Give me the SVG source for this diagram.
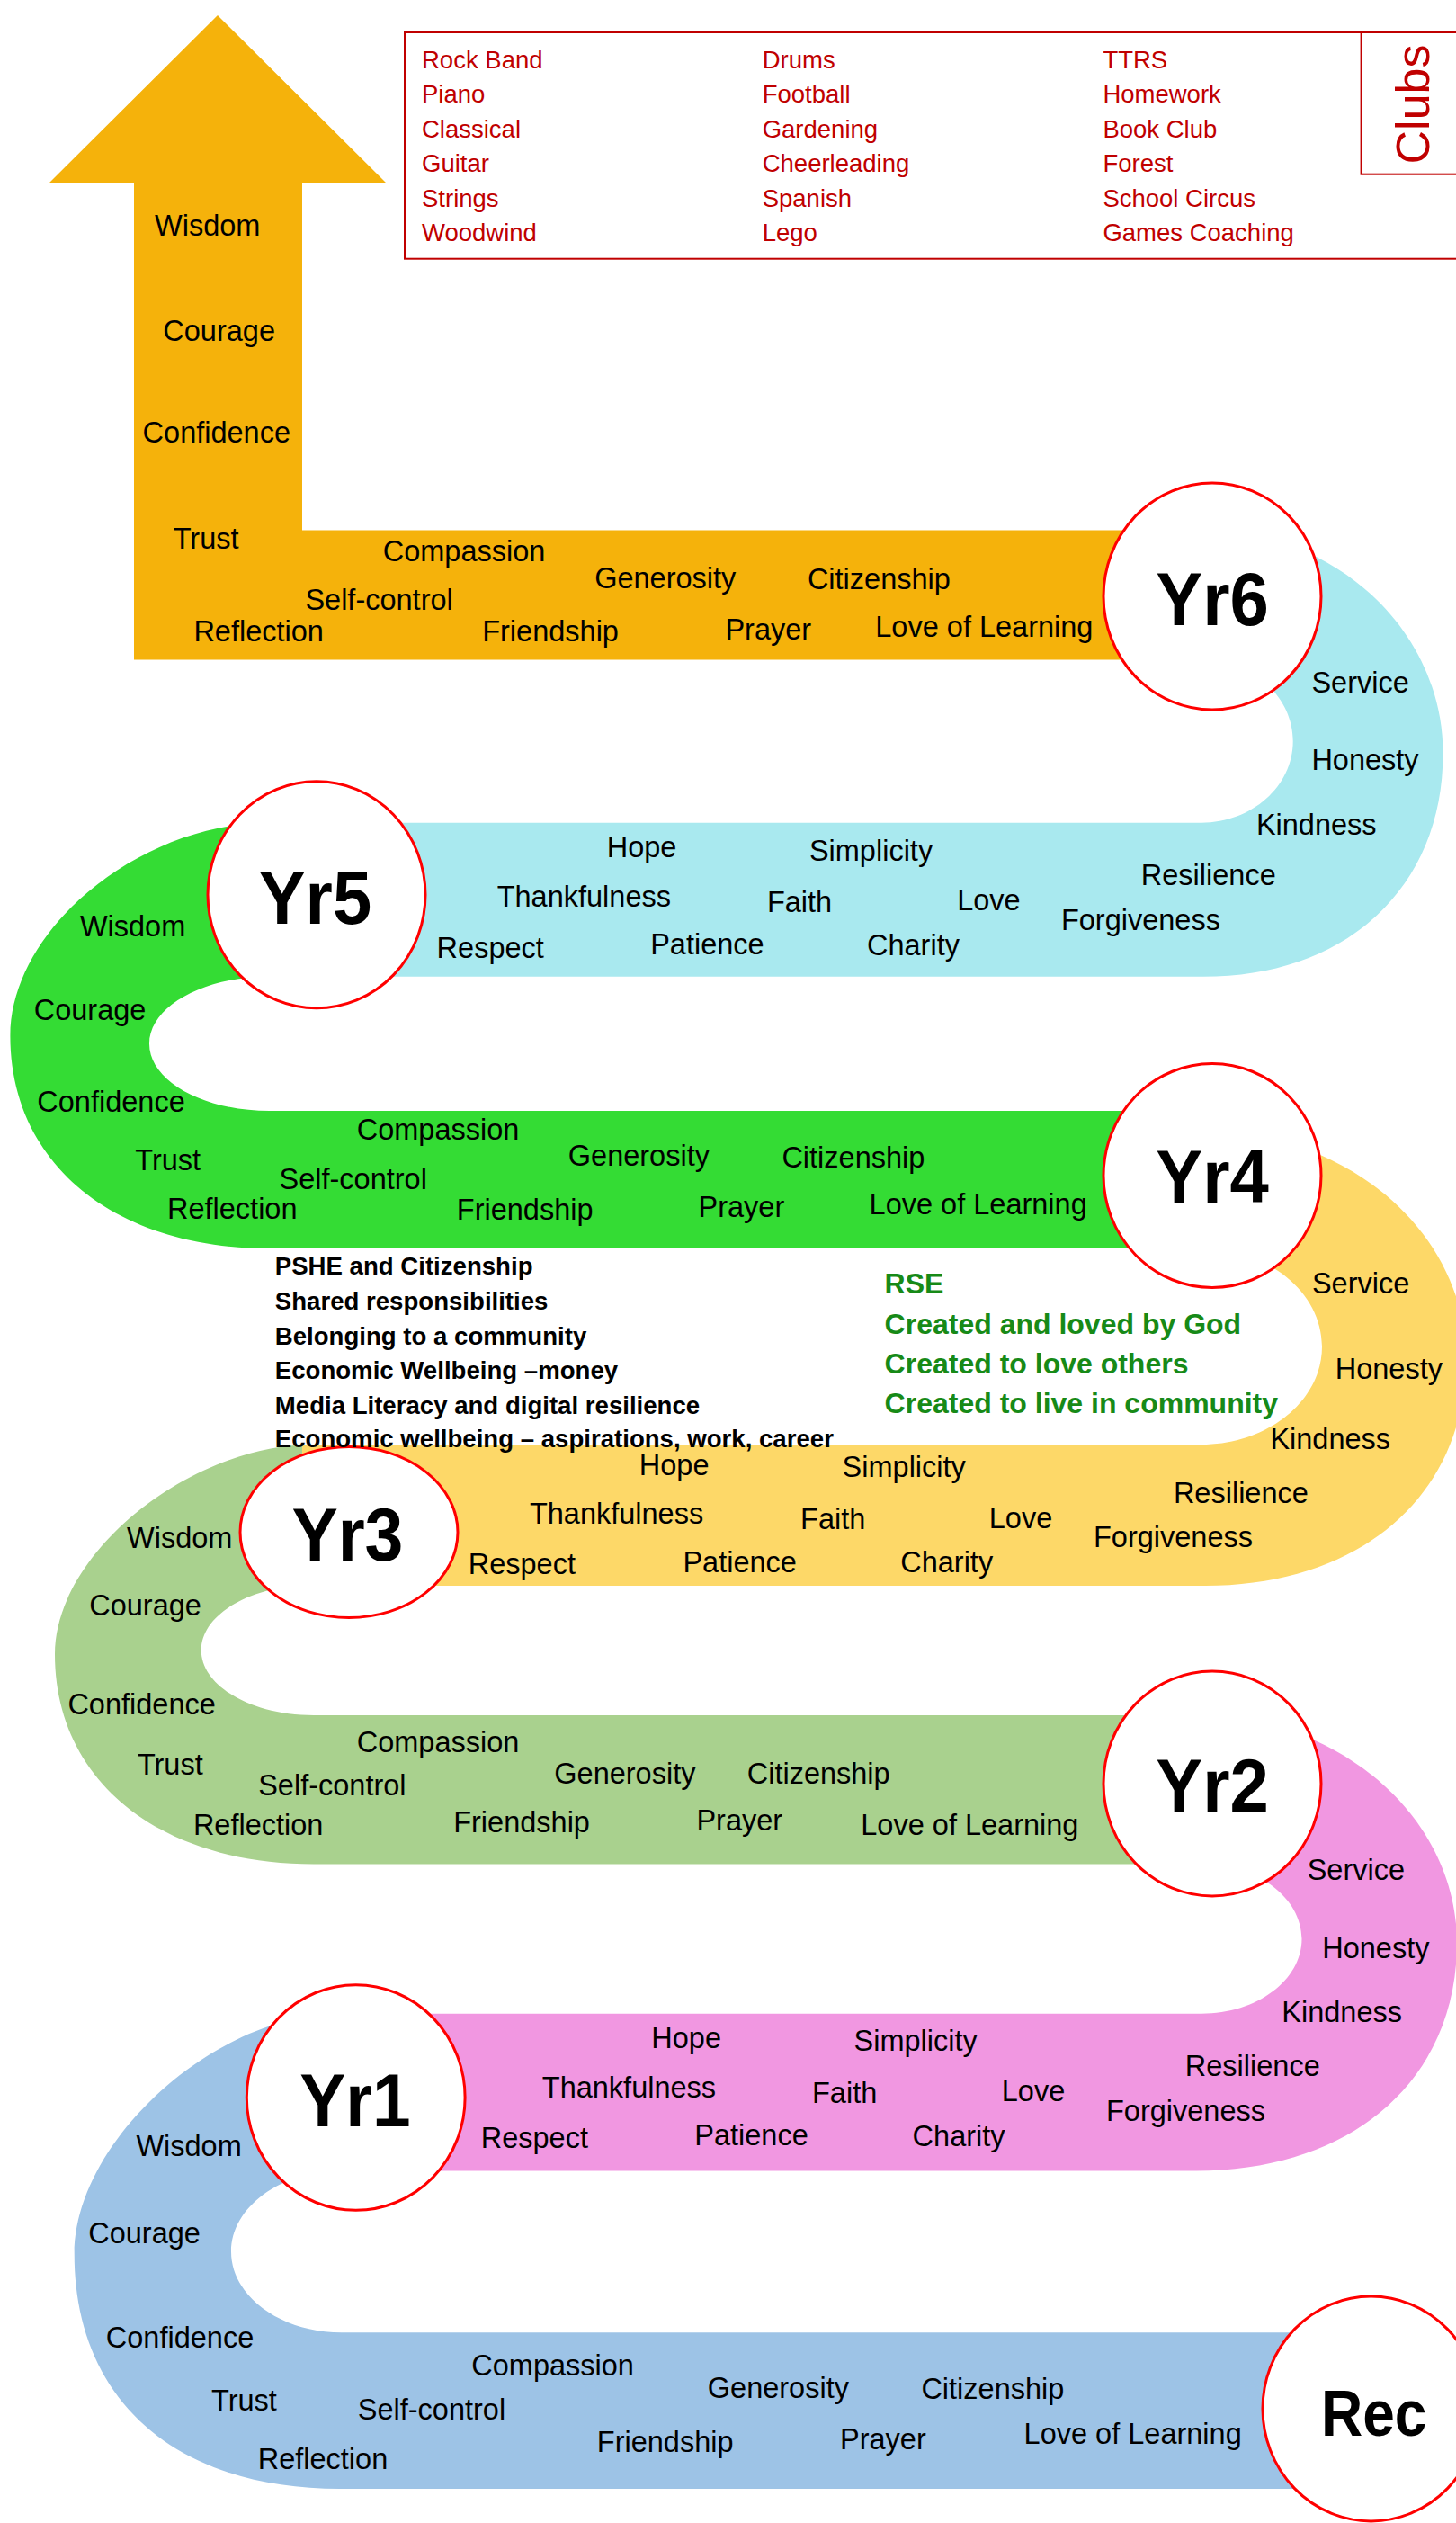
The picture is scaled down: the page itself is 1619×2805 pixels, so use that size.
<svg xmlns="http://www.w3.org/2000/svg" width="1619" height="2805" viewBox="0 0 1619 2805">
<style>
.v{font-family:"Liberation Sans",Arial,sans-serif;font-size:32.5px;fill:#000}
.c{font-family:"Liberation Sans",Arial,sans-serif;font-size:27.5px;fill:#C00000}
.p{font-family:"Liberation Sans",Arial,sans-serif;font-size:27.6px;font-weight:bold;fill:#000}
.g{font-family:"Liberation Sans",Arial,sans-serif;font-size:32px;font-weight:bold;fill:#178A17}
.yr{font-family:"Liberation Sans",Arial,sans-serif;font-size:84px;font-weight:bold;fill:#000}
.ring{fill:#fff;stroke:#FF0000;stroke-width:3}
</style>
<rect x="0" y="0" width="1619" height="2805" fill="#fff"/>
<g id="connectors">
<path id="seg-rec-yr1" fill="#9DC3E6" d="M378,2238.8 C239.2,2238.8 82.7,2380.4 82.7,2506 C82.7,2667.8 194.9,2767 378,2767 L1524,2767 L1524,2593.2 L379.7,2593.2 C311.9,2593.2 257,2552.9 257,2503.3 C257,2453.7 311.9,2413.4 379.7,2413.4 Z"/>
<path id="seg-yr1-yr2" fill="#F197E1" d="M1330,1907 C1489.5,1907 1620,2020.9 1620,2160 C1620,2312 1504,2413.4 1330,2413.4 L396,2413.4 L396,2238.8 L1336,2238.8 C1397.6,2238.8 1447.5,2201.6 1447.5,2155.6 C1447.5,2109.6 1397.6,2072.4 1336,2072.4 Z"/>
<path id="seg-yr2-yr3" fill="#A9D18E" d="M348.7,1606 C210.6,1606 61,1727.2 61,1839 C61,1979 176.1,2072.4 348.7,2072.4 L1340,2072.4 L1340,1907 L348.7,1907 C279.7,1907 223.7,1874.5 223.7,1834.5 C223.7,1794.5 279.7,1762 348.7,1762 Z"/>
<path id="seg-yr3-yr4" fill="#FDD868" d="M1340,1258 C1499.5,1258 1630,1371.4 1630,1510 C1630,1661.8 1514,1763 1340,1763 L336,1763 L336,1606 L1336,1606 C1410,1606 1470,1557.2 1470,1497 C1470,1436.8 1410,1388 1336,1388 Z"/>
<path id="seg-yr4-yr5" fill="#34DC34" d="M299.6,914.7 C155.5,914.7 11.4,1033.1 11.4,1151.4 C11.4,1293.4 126.7,1388 299.6,1388 L1340,1388 L1340,1235 L299.6,1235 C225.8,1235 166,1201.6 166,1160.4 C166,1119.2 225.8,1085.7 299.6,1085.7 Z"/>
<path id="seg-yr5-yr6" fill="#A9E9EF" d="M1338,589.4 C1484.6,589.4 1604.5,701 1604.5,837.5 C1604.5,986.4 1497.9,1085.7 1338,1085.7 L352,1085.7 L352,914.7 L1336,914.7 C1392.2,914.7 1437.7,874.1 1437.7,824.1 C1437.7,774.1 1392.2,733.5 1336,733.5 Z"/>
<path id="seg-yr6-arrow" fill="#F5B20B" d="M242,17 L429,203 L336,203 L336,589.4 L1340,589.4 L1340,733.5 L149,733.5 L149,203 L55,203 Z"/>
</g>
<g id="labels" class="v">
<text x="172" y="262.4">Wisdom</text>
<text x="181.3" y="378.6">Courage</text>
<text x="158.6" y="491.8">Confidence</text>
<text x="192.7" y="609.6">Trust</text>
<text x="425.7" y="624">Compassion</text>
<text x="339.4" y="678.3">Self-control</text>
<text x="215.4" y="712.9">Reflection</text>
<text x="536.2" y="712.9">Friendship</text>
<text x="661.2" y="654">Generosity</text>
<text x="897.9" y="655">Citizenship</text>
<text x="806.4" y="711.3">Prayer</text>
<text x="973.3" y="707.7">Love of Learning</text>

<text x="1458.4" y="769.7">Service</text>
<text x="1458.4" y="855.8">Honesty</text>
<text x="1396.9" y="927.6">Kindness</text>
<text x="1268.8" y="983.9">Resilience</text>
<text x="1179.9" y="1033.5">Forgiveness</text>
<text x="674.7" y="953.4">Hope</text>
<text x="899.9" y="957">Simplicity</text>
<text x="552.7" y="1007.7">Thankfulness</text>
<text x="852.9" y="1014.4">Faith</text>
<text x="1064.2" y="1011.8">Love</text>
<text x="485.6" y="1064.5">Respect</text>
<text x="723.2" y="1060.9">Patience</text>
<text x="964" y="1061.9">Charity</text>

<text x="88.9" y="1041.2">Wisdom</text>
<text x="37.7" y="1134.2">Courage</text>
<text x="41.3" y="1235.5">Confidence</text>
<text x="150.3" y="1301">Trust</text>
<text x="396.7" y="1266.5">Compassion</text>
<text x="310.5" y="1321.8">Self-control</text>
<text x="186" y="1355.3">Reflection</text>
<text x="507.8" y="1356.4">Friendship</text>
<text x="631.8" y="1295.9">Generosity</text>
<text x="869.4" y="1297.5">Citizenship</text>
<text x="776.5" y="1352.5">Prayer</text>
<text x="966.6" y="1350">Love of Learning</text>

<text x="1458.9" y="1438">Service</text>
<text x="1484.7" y="1532.5">Honesty</text>
<text x="1412.4" y="1611">Kindness</text>
<text x="1304.9" y="1670.5">Resilience</text>
<text x="1216" y="1719.5">Forgiveness</text>
<text x="710.8" y="1639.5">Hope</text>
<text x="936.6" y="1642">Simplicity</text>
<text x="588.9" y="1693.7">Thankfulness</text>
<text x="890.1" y="1700.4">Faith</text>
<text x="1099.8" y="1698.9">Love</text>
<text x="520.7" y="1749.5">Respect</text>
<text x="759.4" y="1748">Patience</text>
<text x="1001.2" y="1748">Charity</text>

<text x="141" y="1721">Wisdom</text>
<text x="99.2" y="1795.5">Courage</text>
<text x="75.4" y="1906">Confidence</text>
<text x="152.9" y="1972.7">Trust</text>
<text x="396.7" y="1947.9">Compassion</text>
<text x="287.2" y="1995.9">Self-control</text>
<text x="214.9" y="2039.8">Reflection</text>
<text x="504.2" y="2037.2">Friendship</text>
<text x="616.3" y="1983">Generosity</text>
<text x="830.7" y="1983">Citizenship</text>
<text x="774.4" y="2035">Prayer</text>
<text x="957.3" y="2039.8">Love of Learning</text>

<text x="1453.7" y="2090.4">Service</text>
<text x="1470.2" y="2176.7">Honesty</text>
<text x="1425.3" y="2248">Kindness</text>
<text x="1317.8" y="2307.5">Resilience</text>
<text x="1230" y="2358">Forgiveness</text>
<text x="724.3" y="2276.5">Hope</text>
<text x="949.5" y="2280">Simplicity</text>
<text x="602.8" y="2331.8">Thankfulness</text>
<text x="903" y="2337.5">Faith</text>
<text x="1113.8" y="2336">Love</text>
<text x="534.7" y="2387.6">Respect</text>
<text x="772.3" y="2385">Patience</text>
<text x="1014.6" y="2386">Charity</text>

<text x="151.4" y="2396.9">Wisdom</text>
<text x="98.2" y="2493.5">Courage</text>
<text x="117.8" y="2609.7">Confidence</text>
<text x="235" y="2679.5">Trust</text>
<text x="524.3" y="2640.7">Compassion</text>
<text x="397.8" y="2689.8">Self-control</text>
<text x="286.7" y="2745">Reflection</text>
<text x="663.8" y="2726">Friendship</text>
<text x="786.8" y="2665.5">Generosity</text>
<text x="1024.4" y="2666.6">Citizenship</text>
<text x="934" y="2723.4">Prayer</text>
<text x="1138.6" y="2717.2">Love of Learning</text>
</g>
<g id="node-yr6"><ellipse class="ring" cx="1348" cy="663" rx="121" ry="126"/><text class="yr" x="1285.3" y="694.8" textLength="125.5" lengthAdjust="spacingAndGlyphs">Yr6</text></g>
<g id="node-yr5"><ellipse class="ring" cx="352" cy="994.8" rx="121" ry="126"/><text class="yr" x="287.7" y="1027.3" textLength="125.5" lengthAdjust="spacingAndGlyphs">Yr5</text></g>
<g id="node-yr4"><ellipse class="ring" cx="1348" cy="1307" rx="121" ry="124.5"/><text class="yr" x="1285.3" y="1337.2" textLength="125.5" lengthAdjust="spacingAndGlyphs">Yr4</text></g>
<g id="node-yr3"><ellipse class="ring" cx="388" cy="1703.5" rx="121" ry="95"/><text class="yr" x="324.4" y="1735" textLength="124" lengthAdjust="spacingAndGlyphs">Yr3</text></g>
<g id="node-yr2"><ellipse class="ring" cx="1348" cy="1983" rx="121" ry="125"/><text class="yr" x="1285.3" y="2014" textLength="125.5" lengthAdjust="spacingAndGlyphs">Yr2</text></g>
<g id="node-yr1"><ellipse class="ring" cx="395.7" cy="2332" rx="121.4" ry="125.3"/><text class="yr" x="333.2" y="2364.4" textLength="123.5" lengthAdjust="spacingAndGlyphs">Yr1</text></g>
<g id="node-rec"><ellipse class="ring" cx="1524.5" cy="2678" rx="120.5" ry="125"/><text class="yr" x="1469" y="2708" style="font-size:72px" textLength="117.5" lengthAdjust="spacingAndGlyphs">Rec</text></g>
<g id="pshe" class="p">
<text x="305.8" y="1417.3">PSHE and Citizenship</text>
<text x="305.8" y="1456">Shared responsibilities</text>
<text x="305.8" y="1494.5">Belonging to a community</text>
<text x="305.8" y="1533.3">Economic Wellbeing –money</text>
<text x="305.8" y="1571.5">Media Literacy and digital resilience</text>
<text x="305.8" y="1609">Economic wellbeing – aspirations, work, career</text>
</g>
<g id="rse" class="g">
<text x="983.6" y="1438">RSE</text>
<text x="983.6" y="1483">Created and loved by God</text>
<text x="983.6" y="1527.3">Created to love others</text>
<text x="983.6" y="1571.3">Created to live in community</text>
</g>
<g id="clubs">
<rect x="450" y="36" width="1220" height="251.7" fill="none" stroke="#C00000" stroke-width="2"/>
<rect x="1513.6" y="36" width="150" height="157.7" fill="none" stroke="#C00000" stroke-width="2"/>
<text transform="translate(1589,116) rotate(-90)" text-anchor="middle" style="font-family:'Liberation Sans',Arial,sans-serif;font-size:52px;fill:#C00000">Clubs</text>
<g class="c">
<text x="469" y="76">Rock Band</text>
<text x="469" y="114.4">Piano</text>
<text x="469" y="152.8">Classical</text>
<text x="469" y="191.2">Guitar</text>
<text x="469" y="229.6">Strings</text>
<text x="469" y="268">Woodwind</text>
<text x="847.7" y="76">Drums</text>
<text x="847.7" y="114.4">Football</text>
<text x="847.7" y="152.8">Gardening</text>
<text x="847.7" y="191.2">Cheerleading</text>
<text x="847.7" y="229.6">Spanish</text>
<text x="847.7" y="268">Lego</text>
<text x="1226.4" y="76">TTRS</text>
<text x="1226.4" y="114.4">Homework</text>
<text x="1226.4" y="152.8">Book Club</text>
<text x="1226.4" y="191.2">Forest</text>
<text x="1226.4" y="229.6">School Circus</text>
<text x="1226.4" y="268">Games Coaching</text>
</g>
</g>
</svg>
